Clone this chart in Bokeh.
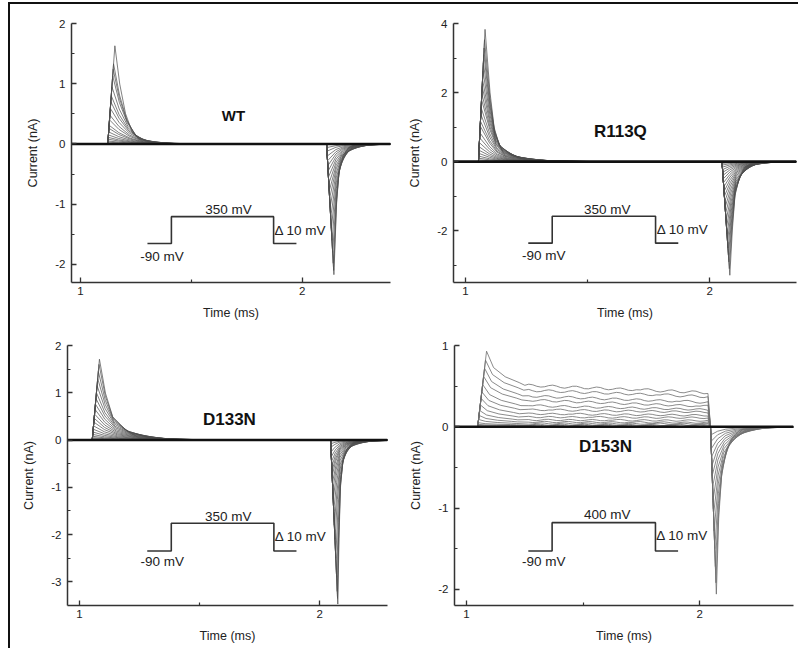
import numpy as np
from bokeh.plotting import figure
from bokeh.layouts import column, row
from bokeh.models import Range1d, FixedTicker
from bokeh.embed import file_html
from bokeh.resources import INLINE
from bokeh.core.properties import value

FONT = "Liberation Sans"

# ---------------- data ----------------
# WT
wt_on_amp = [0.03, 0.05, 0.08, 0.11, 0.15, 0.20, 0.26, 0.31, 0.40, 0.48, 0.59, 0.70, 0.80, 0.95, 1.13, 1.24, 1.33, 1.63]
wt_off_amp = [-0.06, -0.12, -0.20, -0.28, -0.36, -0.45, -0.55, -0.66, -0.78, -0.90, -1.05, -1.22, -1.40, -1.60, -1.80, -1.98, -2.10, -2.17]
wt_on_time = [1.123, 1.155]
wt_off_time = [2.110, 2.143]
wt_on_dt = [0.0, 0.022, 0.048, 0.078, 0.107, 0.16, 0.25]
wt_on_frac = [1.0, 0.61, 0.31, 0.12, 0.055, 0.015, 0.0]
wt_off_dt = [0.0, 0.012, 0.022, 0.040, 0.065, 0.10]
wt_off_frac = [1.0, 0.46, 0.23, 0.09, 0.03, 0.0]
wt_prot_t = [1.302, 1.410, 1.871, 1.974]
wt_prot_v = [-1.653, -1.207]

# R113Q
r113q_on_amp = [0.05, 0.10, 0.16, 0.24, 0.33, 0.43, 0.55, 0.69, 0.84, 1.03, 1.17, 1.37, 1.56, 1.80, 1.97, 2.18, 2.38, 2.62, 2.86, 3.10, 3.29, 3.53, 3.83]
r113q_off_amp = [-0.05, -0.10, -0.16, -0.23, -0.31, -0.40, -0.50, -0.61, -0.73, -0.86, -1.00, -1.15, -1.32, -1.50, -1.70, -1.90, -2.10, -2.30, -2.50, -2.70, -2.90, -3.10, -3.29]
r113q_on_time = [1.053, 1.080]
r113q_off_time = [2.050, 2.082]
r113q_on_dt = [0.0, 0.0205, 0.037, 0.057, 0.105, 0.17, 0.26]
r113q_on_frac = [1.0, 0.52, 0.26, 0.13, 0.05, 0.015, 0.0]
r113q_off_dt = [0.0, 0.010, 0.021, 0.037, 0.060, 0.10]
r113q_off_frac = [1.0, 0.61, 0.30, 0.15, 0.05, 0.0]
r113q_prot_t = [1.257, 1.355, 1.778, 1.871]
r113q_prot_v = [-2.36, -1.583]

# D133N
d133n_on_amp = [0.03, 0.05, 0.08, 0.12, 0.17, 0.23, 0.30, 0.38, 0.46, 0.55, 0.65, 0.76, 0.88, 1.00, 1.15, 1.30, 1.45, 1.60, 1.71]
d133n_off_amp = [-0.08, -0.15, -0.25, -0.35, -0.45, -0.55, -0.65, -0.75, -0.90, -1.05, -1.25, -1.50, -1.80, -2.10, -2.50, -2.90, -3.20, -3.35, -3.47]
d133n_on_time = [1.053, 1.083]
d133n_off_time = [2.045, 2.075]
d133n_on_dt = [0.0, 0.025, 0.055, 0.11, 0.20, 0.32]
d133n_on_frac = [1.0, 0.58, 0.29, 0.12, 0.03, 0.0]
d133n_off_dt = [0.0, 0.005, 0.011, 0.020, 0.035, 0.060, 0.10]
d133n_off_frac = [1.0, 0.60, 0.29, 0.14, 0.06, 0.02, 0.0]
d133n_prot_t = [1.282, 1.382, 1.809, 1.903]
d133n_prot_v = [-2.347, -1.761]

# D153N
d153n_peak = [0.015, 0.03, 0.05, 0.09, 0.14, 0.20, 0.27, 0.35, 0.43, 0.52, 0.62, 0.72, 0.82, 0.93]
d153n_early = [0.008, 0.015, 0.025, 0.04, 0.06, 0.085, 0.12, 0.16, 0.21, 0.26, 0.33, 0.38, 0.45, 0.51]
d153n_late = [0.006, 0.012, 0.02, 0.035, 0.05, 0.075, 0.11, 0.14, 0.18, 0.21, 0.25, 0.30, 0.37, 0.42]
d153n_off_amp = [-0.10, -0.18, -0.27, -0.37, -0.48, -0.60, -0.74, -0.90, -1.08, -1.28, -1.50, -1.72, -1.92, -2.06]
d153n_on_time = [1.048, 1.086]
d153n_plateau_time = [1.25, 2.035]
d153n_off_time = [2.046, 2.071]
d153n_on_dt = [0.0, 0.03, 0.08, 0.14, 0.164]
d153n_on_frac = [1.0, 0.52, 0.25, 0.08, 0.0]
d153n_off_dt = [0.0, 0.010, 0.022, 0.040, 0.065, 0.10, 0.16]
d153n_off_frac = [1.0, 0.55, 0.30, 0.15, 0.07, 0.02, 0.0]
d153n_ripple = [0.00, 0.014, 0.018, 0.006, -0.010, -0.016, -0.006, 0.010, 0.016, 0.004, -0.012, -0.014,
                0.000, 0.014, 0.012, -0.004, -0.016, -0.010, 0.006, 0.016, 0.010, -0.006, -0.014, -0.008,
                0.008, 0.016, 0.006, -0.010, -0.016, -0.004, 0.012, 0.014, 0.002, -0.012, -0.012, 0.002,
                0.014, 0.010, -0.006, -0.014, -0.006, 0.008, 0.014, 0.004, -0.010, -0.012, 0.000]
d153n_prot_t = [1.265, 1.367, 1.810, 1.907]
d153n_prot_v = [-1.529, -1.18]

# --------------- helpers ---------------
def transient(t_times, amp, amp_max, dts, fracs, k):
    t0, tpk = t_times
    r = abs(amp / amp_max)
    tp = t0 + (tpk - t0) * r
    s = 1.0 + k * (1.0 - r)
    xs = [t0] + [tp + d * s for d in dts]
    ys = [0.0] + [amp * f for f in fracs]
    return xs, ys


def family(on_amp, off_amp, on_time, off_time, on_dt, on_frac, off_dt, off_frac, k_on, k_off, x0, x1):
    xs_all, ys_all = [], []
    mx_on, mx_off = max(on_amp), min(off_amp)
    for a_on, a_off in zip(on_amp, off_amp):
        ox, oy = transient(on_time, a_on, mx_on, on_dt, on_frac, k_on)
        fx, fy = transient(off_time, a_off, mx_off, off_dt, off_frac, k_off)
        xs_all.append([x0] + ox + fx + [x1])
        ys_all.append([0.0] + oy + fy + [0.0])
    return xs_all, ys_all


def family_d153n(x0, x1):
    xs_all, ys_all = [], []
    mx_on, mx_off = max(d153n_peak), min(d153n_off_amp)
    n = len(d153n_ripple)
    ta, tb = d153n_plateau_time
    pt = list(np.linspace(ta, tb, n))
    for i, (P, S, E, A) in enumerate(zip(d153n_peak, d153n_early, d153n_late, d153n_off_amp)):
        t0, tpk = d153n_on_time
        r = P / mx_on
        tp = t0 + (tpk - t0) * r
        xs = [x0, t0] + [tp + d for d in d153n_on_dt]
        ys = [0.0, 0.0] + [S + (P - S) * f for f in d153n_on_frac]
        sh = (5 * i) % n
        rip = d153n_ripple[sh:] + d153n_ripple[:sh]
        for j in range(1, n):
            xs.append(pt[j])
            ys.append(S + (E - S) * (pt[j] - ta) / (tb - ta) + rip[j] * (0.45 + 0.55 * r))
        fx, fy = transient(d153n_off_time, A, mx_off, d153n_off_dt, d153n_off_frac, 2.0)
        xs += fx + [x1]
        ys += fy + [0.0]
        xs_all.append(xs)
        ys_all.append(ys)
    return xs_all, ys_all


def make_panel(w, h, borders, xr, yr, yticks, yminor, name, name_xy, name_size,
               prot_t, prot_v, step_label, step_xy, delta_xy, hold_xy, traces, trace_color, trace_width):
    bl, br, bt, bb = borders
    p = figure(width=w, height=h, x_range=Range1d(*xr), y_range=Range1d(*yr),
               output_backend="svg", toolbar_location=None,
               min_border_left=bl, min_border_right=br, min_border_top=bt, min_border_bottom=bb)
    p.xgrid.visible = False
    p.ygrid.visible = False
    p.outline_line_color = None
    p.background_fill_color = "white"
    p.border_fill_color = "white"

    p.xaxis.ticker = FixedTicker(ticks=[1, 2], minor_ticks=[1.5])
    p.yaxis.ticker = FixedTicker(ticks=yticks, minor_ticks=yminor)
    p.yaxis.major_label_overrides = {t: ("%d" % t) for t in yticks}
    p.xaxis.major_label_overrides = {1: "1", 2: "2"}
    p.xaxis.axis_label = "Time (ms)"
    p.yaxis.axis_label = "Current (nA)"
    for ax in (p.xaxis[0], p.yaxis[0]):
        ax.axis_line_color = "#333333"
        ax.axis_line_width = 1.5
        ax.major_tick_line_color = "#333333"
        ax.major_tick_line_width = 1.3
        ax.minor_tick_line_color = "#333333"
        ax.minor_tick_line_width = 1.2
        ax.major_tick_in = 5
        ax.major_tick_out = 0
        ax.minor_tick_in = 3
        ax.minor_tick_out = 0
        ax.major_label_text_font = FONT
        ax.major_label_text_font_size = "11.5px"
        ax.major_label_text_color = "#222222"
        ax.axis_label_text_font = FONT
        ax.axis_label_text_font_size = "12.5px"
        ax.axis_label_text_font_style = "normal"
        ax.axis_label_text_color = "#222222"
    p.xaxis.major_label_standoff = 4
    p.xaxis.axis_label_standoff = 8
    p.yaxis.major_label_standoff = 6
    p.yaxis.axis_label_standoff = 12

    xs, ys = traces
    p.multi_line(xs=xs, ys=ys, line_color=trace_color, line_width=trace_width, line_alpha=0.9)
    p.line(x=[xr[0], xr[1]], y=[0, 0], line_color="#111111", line_width=2.6)

    t0, t1, t2, t3 = prot_t
    lo, hi = prot_v
    p.line(x=[t0, t1, t1, t2, t2, t3], y=[lo, lo, hi, hi, lo, lo], line_color="#333333", line_width=1.6)
    p.text(x=[step_xy[0], delta_xy[0], hold_xy[0]], y=[step_xy[1], delta_xy[1], hold_xy[1]],
           text=[step_label, "\u0394 10 mV", "-90 mV"], text_font=value(FONT), text_font_size="13.5px",
           text_align="center", text_baseline="middle", text_color="#222222")
    p.text(x=[name_xy[0]], y=[name_xy[1]], text=[name], text_font=value(FONT), text_font_size=name_size,
           text_font_style="bold", text_align="center", text_baseline="middle", text_color="#111111")
    return p


# --------------- panels ---------------
wt_xr = (0.9594, 2.3983)
p1 = make_panel(390, 318, (61, 10, 19, 39), wt_xr, (-2.3, 2.0),
                [-2, -1, 0, 1, 2], [-1.5, -0.5, 0.5, 1.5],
                "WT", (1.69, 0.48), "15px", wt_prot_t, wt_prot_v, "350 mV",
                (1.668, -1.09), (1.992, -1.433), (1.368, -1.863),
                family(wt_on_amp, wt_off_amp, wt_on_time, wt_off_time, wt_on_dt, wt_on_frac,
                       wt_off_dt, wt_off_frac, 1.2, 2.5, *wt_xr), "#505050", 0.8)

r_xr = (0.9509, 2.3549)
p2 = make_panel(398, 318, (53, 2, 19, 38), r_xr, (-3.5, 4.0),
                [-2, 0, 2, 4], [-3, -1, 1, 3],
                "R113Q", (1.634, 0.87), "17px", r113q_prot_t, r113q_prot_v, "350 mV",
                (1.58, -1.373), (1.889, -1.968), (1.32, -2.717),
                family(r113q_on_amp, r113q_off_amp, r113q_on_time, r113q_off_time, r113q_on_dt, r113q_on_frac,
                       r113q_off_dt, r113q_off_frac, 1.2, 2.0, *r_xr), "#505050", 0.8)

d1_xr = (0.9501, 2.2818)
p3 = make_panel(390, 326, (57, 13, 23, 42), d1_xr, (-3.5, 2.0),
                [-3, -2, -1, 0, 1, 2], [-2.5, -1.5, -0.5, 0.5, 1.5],
                "D133N", (1.624, 0.438), "17px", d133n_prot_t, d133n_prot_v, "350 mV",
                (1.619, -1.607), (1.92, -2.03), (1.344, -2.573),
                family(d133n_on_amp, d133n_off_amp, d133n_on_time, d133n_off_time, d133n_on_dt, d133n_on_frac,
                       d133n_off_dt, d133n_off_frac, 1.0, 2.5, *d1_xr), "#505050", 0.8)

d2_xr = (0.9486, 2.4017)
p4 = make_panel(398, 326, (54, 5, 23, 43), d2_xr, (-2.2, 1.0),
                [-2, -1, 0, 1], [-1.5, -0.5, 0.5],
                "D153N", (1.596, -0.243), "17px", d153n_prot_t, d153n_prot_v, "400 mV",
                (1.603, -1.077), (1.9245, -1.344), (1.331, -1.661),
                family_d153n(*d2_xr), "#707070", 0.9)

layout = column(row(p1, p2), row(p3, p4))
layout.styles = {"border-left": "2px solid #111111", "border-top": "2px solid #111111",
                 "margin-left": "8px", "margin-top": "2px"}

open("out.html", "w").write(file_html(layout, INLINE))
